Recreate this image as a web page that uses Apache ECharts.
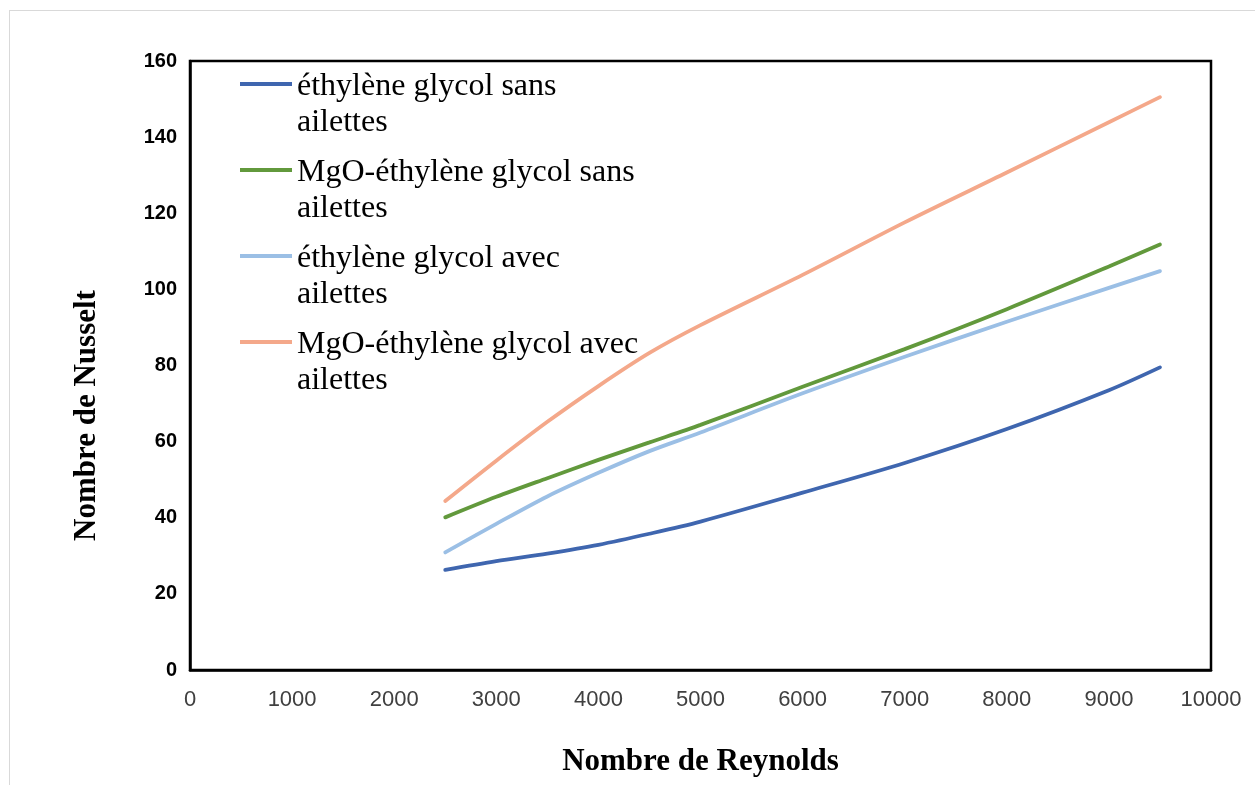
<!DOCTYPE html>
<html>
<head>
<meta charset="utf-8">
<script src="https://cdn.jsdelivr.net/npm/echarts@6/dist/echarts.min.js"></script>
<style>
html,body{margin:0;padding:0;background:#fff;}
#frame{position:absolute;left:9px;top:10px;width:1246px;height:775px;border-top:1.5px solid #d9d9d9;border-left:1.5px solid #d9d9d9;box-sizing:border-box;}
#chart{position:absolute;left:0;top:0;width:1255px;height:785px;}
</style>
</head>
<body>
<div id="frame"></div>
<div id="chart"></div>
<script>
const reynolds = [2500, 3000, 3500, 4000, 4500, 5000, 6000, 7000, 8000, 9000, 9500];
const egSans = [26.3, 28.6, 30.6, 32.9, 35.8, 39.0, 46.6, 54.4, 63.3, 73.5, 79.5];
const mgoSans = [40.1, 45.5, 50.4, 55.2, 59.8, 64.4, 74.4, 84.3, 94.8, 106.0, 111.8];
const egAvec = [30.9, 38.4, 45.6, 51.8, 57.5, 62.4, 72.7, 82.3, 91.5, 100.4, 104.8];
const mgoAvec = [44.4, 55.0, 65.2, 74.6, 83.3, 90.6, 103.8, 117.6, 130.7, 143.9, 150.5];
const xTickLabels = ['0', '1000', '2000', '3000', '4000', '5000', '6000', '7000', '8000', '9000', '10000'];
const seriesNames = ['éthylène glycol sans ailettes', 'MgO-éthylène glycol sans ailettes', 'éthylène glycol avec ailettes', 'MgO-éthylène glycol avec ailettes'];
const legendLabels = {
  'éthylène glycol sans ailettes': 'éthylène glycol sans\nailettes',
  'MgO-éthylène glycol sans ailettes': 'MgO-éthylène glycol sans\nailettes',
  'éthylène glycol avec ailettes': 'éthylène glycol avec\nailettes',
  'MgO-éthylène glycol avec ailettes': 'MgO-éthylène glycol avec\nailettes'
};
const colors = ['#3F66AF', '#62993C', '#9BBFE5', '#F4A88A'];
const allData = [egSans, mgoSans, egAvec, mgoAvec];

const legendIcon = 'path://M0,0 L0.01,0 L0.01,0.01 L0,0.01 Z M0,13 L52,13 L52,17 L0,17 Z M51.99,71.99 L52,71.99 L52,72 L51.99,72 Z';

const chart = echarts.init(document.getElementById('chart'), null, {renderer: 'canvas'});
const option = {
  backgroundColor: 'transparent',
  animation: false,
  grid: {left: 190, right: 44, top: 61, bottom: 115, show: true, borderColor: '#000', borderWidth: 2.5, backgroundColor: 'transparent'},
  legend: {
    orient: 'vertical',
    left: 240,
    top: 69,
    padding: 0,
    itemWidth: 52,
    itemHeight: 72,
    itemGap: 14,
    icon: legendIcon,
    data: seriesNames.map((n, i) => ({name: n, itemStyle: {color: colors[i], borderWidth: 0}})),
    formatter: n => legendLabels[n],
    textStyle: {fontFamily: 'Liberation Serif', fontSize: 32, color: '#000', lineHeight: 36}
  },
  xAxis: {
    type: 'value', min: 0, max: 10000, interval: 1000,
    name: 'Nombre de Reynolds', nameLocation: 'middle', nameGap: 76,
    nameTextStyle: {fontFamily: 'Liberation Serif', fontWeight: 'bold', fontSize: 31, color: '#000'},
    axisLine: {show: true, lineStyle: {color: '#000', width: 2.5}},
    axisTick: {show: false},
    splitLine: {show: false},
    axisLabel: {fontFamily: 'Liberation Sans', fontSize: 22, color: '#404040', margin: 19,
      formatter: (v) => xTickLabels[Math.round(v / 1000)]}
  },
  yAxis: {
    type: 'value', min: 0, max: 160, interval: 20,
    name: 'Nombre de Nusselt', nameLocation: 'middle', nameGap: 88, nameRotate: 90,
    nameTextStyle: {fontFamily: 'Liberation Serif', fontWeight: 'bold', fontSize: 31, color: '#000', padding: [0, 100, 0, 0]},
    axisLine: {show: true, lineStyle: {color: '#000', width: 2.5}},
    axisTick: {show: false},
    splitLine: {show: false},
    axisLabel: {fontFamily: 'Liberation Sans', fontWeight: 'bold', fontSize: 20, color: '#000', margin: 13}
  },
  series: allData.map((d, i) => ({
    name: seriesNames[i],
    type: 'line',
    data: reynolds.map((x, j) => [x, d[j]]),
    smooth: 0.3,
    showSymbol: false,
    symbol: 'none',
    lineStyle: {color: colors[i], width: 3.8, cap: 'round'},
    itemStyle: {color: colors[i]}
  }))
};
chart.setOption(option);
</script>
</body>
</html>
